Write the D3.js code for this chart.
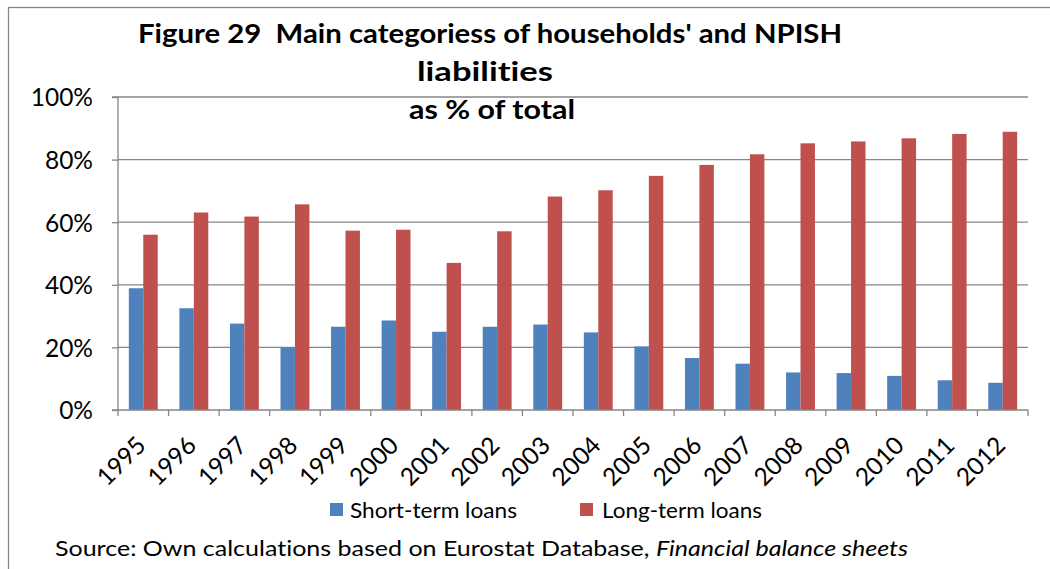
<!DOCTYPE html>
<html>
<head>
<meta charset="utf-8">
<script src="https://cdn.jsdelivr.net/npm/d3@7"></script>
<style>
  html, body { margin: 0; padding: 0; background: #fff; }
  svg { display: block; }
  text { font-family: Lato, "Open Sans", sans-serif; fill: #000; white-space: pre; font-variant-ligatures: none; font-feature-settings: "liga" 0, "clig" 0; }
</style>
</head>
<body>
<svg id="chart" width="1050" height="569"></svg>
<script>
const years = ["1995","1996","1997","1998","1999","2000","2001","2002","2003","2004","2005","2006","2007","2008","2009","2010","2011","2012"];
const shortTerm = [38.9, 32.5, 27.6, 20.0, 26.6, 28.6, 25.0, 26.6, 27.3, 24.8, 20.3, 16.6, 14.8, 12.0, 11.8, 10.9, 9.5, 8.7];
const longTerm  = [56.0, 63.1, 61.8, 65.7, 57.3, 57.6, 47.0, 57.1, 68.2, 70.2, 74.8, 78.3, 81.7, 85.2, 85.8, 86.8, 88.2, 88.9];
const seriesNames = ["Short-term loans", "Long-term loans"];
const seriesColors = ["#4F81BD", "#C0504D"];
const yTicks = [0, 20, 40, 60, 80, 100];
const titleLines = ["Figure 29  Main categoriess of households' and NPISH", "liabilities", "as % of total"];

const svg = d3.select("#chart");
const m = { left: 118, right: 1028, top: 97, bottom: 410 };
const gridColor = "#868686";

function fit(sel, target) {
  const w = sel.node().getComputedTextLength();
  if (Math.abs(w - target) / target > 0.015) sel.attr("textLength", target).attr("lengthAdjust", "spacingAndGlyphs");
}

// outer chart border
svg.append("rect").attr("x", 8.5).attr("y", 7.5).attr("width", 1100).attr("height", 700)
  .attr("fill", "none").attr("stroke", "#868686").attr("stroke-width", 1.3);

const x = d3.scaleBand().domain(years).range([m.left, m.right])
  .paddingInner(3 / 7).paddingOuter(1.5 / 7);
const xs = d3.scaleBand().domain([0, 1]).range([0, x.bandwidth()]);
const y = d3.scaleLinear().domain([0, 100]).range([m.bottom, m.top]);
const step = x.step();

// gridlines
svg.append("g").selectAll("line").data(yTicks.filter(d => d > 0)).join("line")
  .attr("x1", m.left).attr("x2", m.right)
  .attr("y1", d => y(d)).attr("y2", d => y(d))
  .attr("stroke", gridColor).attr("stroke-width", 1.3);

// bars
const data = years.map((yr, i) => ({ yr, vals: [shortTerm[i], longTerm[i]] }));
const groups = svg.append("g").selectAll("g").data(data).join("g")
  .attr("transform", d => `translate(${x(d.yr)},0)`);
groups.selectAll("rect").data(d => d.vals.map((v, k) => ({ v, k }))).join("rect")
  .attr("x", d => xs(d.k)).attr("width", xs.bandwidth())
  .attr("y", d => y(d.v)).attr("height", d => y(0) - y(d.v))
  .attr("fill", d => seriesColors[d.k]);

// y axis
const yAxis = d3.axisLeft(y).tickValues(yTicks).tickFormat(d => d + "%").tickSize(6).tickPadding(19);
const gy = svg.append("g").attr("transform", `translate(${m.left},0)`).call(yAxis);
gy.select(".domain").attr("stroke", gridColor).attr("stroke-width", 1.3).attr("d", `M-6,${m.bottom}H0V${m.top}H-6`);
gy.selectAll(".tick line").attr("stroke", gridColor).attr("stroke-width", 1.3);
gy.selectAll(".tick text").attr("font-size", 24.5).attr("font-family", "Lato, sans-serif").attr("fill", "#000").attr("dy", "0.36em");

// x axis baseline
svg.append("line").attr("x1", m.left).attr("x2", m.right).attr("y1", m.bottom).attr("y2", m.bottom)
  .attr("stroke", gridColor).attr("stroke-width", 1.3);
// x tick marks at category boundaries
svg.append("g").selectAll("line").data(d3.range(years.length + 1)).join("line")
  .attr("x1", i => m.left + i * step).attr("x2", i => m.left + i * step)
  .attr("y1", m.bottom).attr("y2", m.bottom + 6)
  .attr("stroke", gridColor).attr("stroke-width", 1.3);
// x labels
svg.append("g").selectAll("text").data(years).join("text")
  .attr("transform", d => `translate(${x(d) + x.bandwidth() / 2 + 4},447) rotate(-45)`)
  .attr("text-anchor", "end").attr("font-size", 24.5).text(d => d);

// title
const titleY = [43, 81, 119];
const titleW = [704, 136, 166];
const titleX = [490, 485, 492];
svg.append("g").selectAll("text").data(titleLines).join("text")
  .attr("x", (d, i) => titleX[i]).attr("y", (d, i) => titleY[i]).attr("text-anchor", "middle")
  .attr("font-weight", "bold").attr("font-size", 26).text(d => d)
  .each(function (d, i) { fit(d3.select(this), titleW[i]); });

// legend
const legX = [330, 580];
const leg = svg.append("g").selectAll("g").data(seriesNames).join("g")
  .attr("transform", (d, i) => `translate(${legX[i]},503)`);
leg.append("rect").attr("width", 13).attr("height", 13).attr("fill", (d, i) => seriesColors[i]);
leg.append("text").attr("x", (d, i) => i === 0 ? 20 : 22).attr("y", 15).attr("font-size", 21).text(d => d)
  .each(function (d, i) { fit(d3.select(this), i === 0 ? 167 : 160); });

// source
const src = svg.append("text").attr("x", 55).attr("y", 556).attr("font-size", 21.5);
src.append("tspan").text("Source: Own calculations based on Eurostat Database, ");
src.append("tspan").attr("font-style", "italic").text("Financial balance sheets");
fit(src, 853);
</script>
</body>
</html>
